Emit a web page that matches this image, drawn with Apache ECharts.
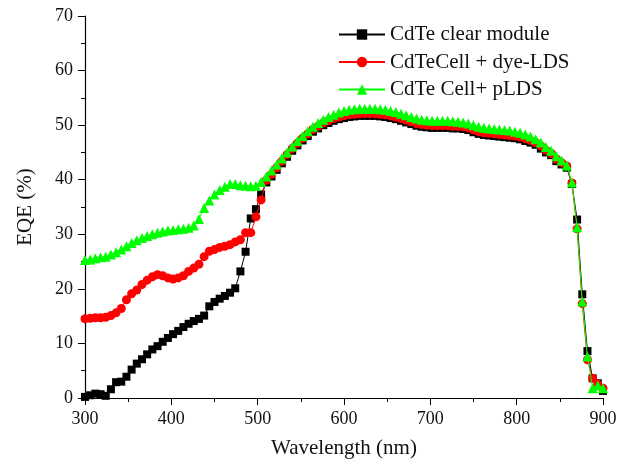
<!DOCTYPE html>
<html>
<head>
<meta charset="utf-8">
<script src="https://cdn.jsdelivr.net/npm/echarts@6/dist/echarts.min.js"></script>
<style>html,body{margin:0;padding:0;background:#fff;}#c{width:626px;height:464px;}</style>
</head>
<body>
<div id="c"></div>
<script>
const wavelengths = [300,306,312,318,324,330,336,342,348,354,360,366,372,378,384,390,396,402,408,414,420,426,432,438,444,450,456,462,468,474,480,486,492,498,504,510,516,522,528,534,540,546,552,558,564,570,576,582,588,594,600,606,612,618,624,630,636,642,648,654,660,666,672,678,684,690,696,702,708,714,720,726,732,738,744,750,756,762,768,774,780,786,792,798,804,810,816,822,828,834,840,846,852,858,864,870,876,882,888,894,900];

const clearModule = [0.2,0.5,0.8,0.7,0.4,1.6,2.9,3.0,3.9,5.2,6.3,7.1,8.0,8.9,9.5,10.3,11.0,11.7,12.3,13.0,13.6,14.1,14.5,15.1,16.8,17.6,18.2,18.7,19.3,20.1,23.2,26.8,32.9,34.6,37.3,39.5,40.6,41.8,43.0,44.2,45.3,46.3,47.2,48.0,48.8,49.4,50.0,50.4,50.8,51.1,51.3,51.5,51.6,51.7,51.7,51.7,51.7,51.6,51.5,51.3,51.1,50.8,50.5,50.2,49.9,49.7,49.6,49.5,49.5,49.5,49.5,49.4,49.4,49.3,49.1,48.7,48.4,48.2,48.1,48.0,47.9,47.8,47.7,47.6,47.4,47.1,46.8,46.4,45.7,45.0,44.5,43.4,42.8,42.2,39.2,32.7,19.0,8.6,3.6,2.7,1.3];

const dyeLDS = [14.5,14.6,14.7,14.7,14.8,15.1,15.6,16.4,18.0,19.1,19.8,20.8,21.6,22.2,22.6,22.4,22.0,21.8,22.0,22.4,23.2,23.8,24.5,25.9,26.9,27.2,27.6,27.8,28.1,28.6,29.0,30.3,30.3,33.2,36.3,39.9,41.0,42.2,43.4,44.6,45.7,46.7,47.6,48.4,49.2,49.8,50.4,50.8,51.2,51.5,51.7,51.9,52.0,52.1,52.1,52.1,52.1,52.0,51.9,51.7,51.5,51.2,50.9,50.6,50.3,50.1,50.0,49.9,49.9,49.9,49.9,49.8,49.8,49.7,49.5,49.1,48.8,48.6,48.5,48.4,48.3,48.2,48.1,48.0,47.8,47.5,47.2,46.8,46.2,45.4,44.8,43.8,43.1,42.5,39.4,31.0,17.3,7.0,3.6,2.5,1.8];

const pLDS = [25.3,25.4,25.6,25.8,25.9,26.3,26.7,27.2,27.8,28.4,28.9,29.3,29.7,30.0,30.3,30.5,30.7,30.8,30.9,31.0,31.2,31.6,32.8,34.8,36.2,37.3,38.1,38.7,39.2,39.2,39.0,38.9,38.8,38.9,39.6,40.6,41.7,42.8,43.9,45.0,46.1,47.1,48.0,48.9,49.7,50.4,51.0,51.5,51.9,52.3,52.6,52.8,52.9,53.0,53.0,53.0,53.0,52.9,52.8,52.6,52.4,52.1,51.8,51.5,51.2,51.0,50.9,50.8,50.8,50.8,50.8,50.7,50.6,50.5,50.3,50.0,49.7,49.5,49.4,49.3,49.2,49.1,49.0,48.8,48.6,48.3,47.9,47.4,46.8,46.0,45.3,44.3,43.5,42.6,39.5,31.3,17.7,7.6,1.8,2.3,1.8];

const seriesNames = ['CdTe clear module', 'CdTeCell + dye-LDS', 'CdTe Cell+ pLDS'];
const xTicks = {min: 300, max: 900, interval: 100};
const yTicks = {min: 0, max: 70, interval: 10};

function pairs(ys) { return wavelengths.map((x, i) => [x, ys[i]]); }

const font = 'Liberation Serif, Times New Roman, serif';
const chart = echarts.init(document.getElementById('c'), null, {renderer: 'canvas'});

const axisCommon = {
  axisLine: {show: true, onZero: false, lineStyle: {color: '#000', width: 1.2}},
  axisTick: {show: true, inside: false, length: 7, lineStyle: {color: '#000', width: 1}},
  minorTick: {show: true, splitNumber: 2, length: 4, lineStyle: {color: '#000', width: 1}},
  splitLine: {show: false},
  axisLabel: {color: '#111', fontFamily: font, fontSize: 18, margin: 12},
  nameTextStyle: {color: '#111', fontFamily: font, fontSize: 21},
  nameLocation: 'middle'
};

chart.setOption({
  animation: false,
  backgroundColor: '#fff',
  grid: {left: 85, right: 23, top: 16, bottom: 64, containLabel: false},
  xAxis: Object.assign({}, axisCommon, {
    type: 'value', min: xTicks.min, max: xTicks.max, interval: xTicks.interval,
    name: 'Wavelength (nm)', nameGap: 40
  }),
  yAxis: Object.assign({}, axisCommon, {
    type: 'value', min: yTicks.min, max: yTicks.max, interval: yTicks.interval,
    name: 'EQE (%)', nameGap: 49, nameRotate: 90
  }),
  legend: {
    orient: 'vertical', left: 333, top: 19, itemWidth: 46, itemHeight: 13, itemGap: 6.5,
    textStyle: {color: '#111', fontFamily: font, fontSize: 21},
    data: seriesNames
  },
  series: [
    {name: seriesNames[0], type: 'line', data: pairs(clearModule), symbol: 'rect', symbolSize: 8,
     itemStyle: {color: '#000'}, lineStyle: {color: '#000', width: 1}, z: 2},
    {name: seriesNames[1], type: 'line', data: pairs(dyeLDS), symbol: 'circle', symbolSize: 9,
     itemStyle: {color: '#ff0000'}, lineStyle: {color: '#ff0000', width: 1}, z: 3},
    {name: seriesNames[2], type: 'line', data: pairs(pLDS), symbol: 'triangle', symbolSize: 10,
     itemStyle: {color: '#00ff00'}, lineStyle: {color: '#00ff00', width: 1}, z: 4}
  ]
});
</script>
</body>
</html>
